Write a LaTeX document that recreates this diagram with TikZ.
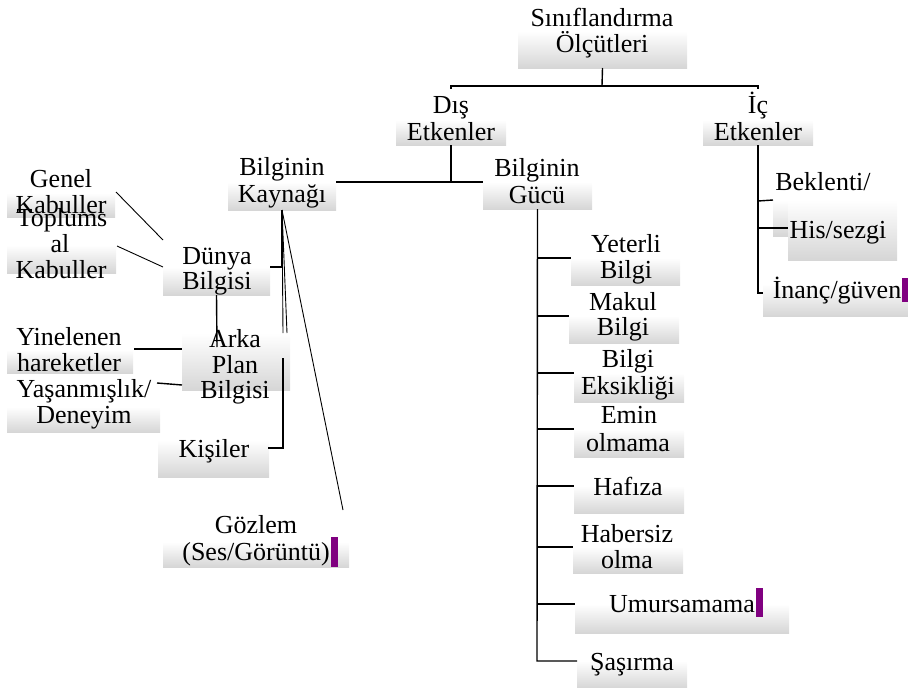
\documentclass[tikz,border=0pt]{standalone}
\usepackage{fontspec}
\setmainfont{Liberation Serif}
\definecolor{boxgray}{RGB}{214,214,214}
\definecolor{barpurple}{RGB}{128,0,128}
\tikzset{
  gbox/.style={draw=none, rectangle, inner sep=0pt, outer sep=0pt, anchor=north west,
    top color=white, bottom color=boxgray},
  txt/.style={anchor=base, inner sep=0pt, outer sep=0pt, font=\fontsize{26}{27}\selectfont},
  conn/.style={line width=1.4pt, black},
  thinconn/.style={line width=0.9pt, black},
  pbar/.style={fill=barpurple, draw=none, rectangle, inner sep=0pt, outer sep=0pt, anchor=north west},
}
\newcommand\gb[5]{\node[gbox, minimum width={(#4)-(#2)}, minimum height={(#5)-(#3)}] (#1) at (#2,#3) {};}
\newcommand\pb[5]{\node[pbar, minimum width={(#4)-(#2)}, minimum height={(#5)-(#3)}] (#1) at (#2,#3) {};}
\newcommand\tx[4]{\node[txt] (#1) at (#2,#3) {#4};}
\begin{document}
\begin{tikzpicture}[x=1pt, y=-1pt]
\useasboundingbox (0,0) rectangle (908,688);
% ---------- boxes ----------
\gb{sin}{518}{31}{687}{68}
\gb{dis}{396}{120}{506}{145}
\gb{ic}{703}{120}{813}{145}
\gb{kay}{228}{182}{336}{210}
\gb{guc}{483}{182}{592}{209}
\gb{gen}{7}{193}{115}{217}
\gb{top}{7}{245}{116}{273}
\gb{dun}{163}{267}{270}{295}
\gb{arka}{182}{333}{290}{390}
\gb{yin}{7}{350}{133}{373}
\gb{yas}{7}{407}{160}{432}
\gb{kis}{158}{440}{269}{477}
\gb{goz}{163}{542}{349}{567}
\gb{yet}{571}{258}{680}{285}
\gb{mak}{569}{316}{679}{343}
\gb{eks}{574}{373}{684}{402}
\gb{emi}{574}{429}{684}{457}
\gb{haf}{574}{486}{684}{513}
\gb{hab}{573}{547}{683}{573}
\gb{umu}{575}{604}{789}{633}
\gb{sas}{577}{661}{687}{688}
\gb{bek}{773}{200}{880}{236}
\gb{his}{788}{200}{897}{260}
\gb{ina}{763}{284}{908}{316}
% ---------- connectors ----------
\coordinate (jtop) at (602,86);
\coordinate (jdis) at (451,86);
\coordinate (jic) at (758,86);
\draw[conn] (sin.south) -- (jtop);
\draw[conn] ([yshift=-3pt]jdis) -- (jdis) -- (jic) -- ([yshift=-3pt]jic);
\draw[conn] (dis.south) -- (451,182);
\draw[conn] (kay.north east) -- (guc.north west);
% Bilginin Gucu branches
\coordinate (gend) at (537,661);
\draw[conn] (guc.south) -- (gend) -- (sas.north west);
\foreach \b in {yet,mak,eks,emi,haf,hab,umu}
  \draw[conn] (537,0 |- \b.north west) -- (\b.north west);
% Ic etkenler branches
\coordinate (iend) at (758,293);
\draw[conn] (ic.south) -- (iend) -- (763,293);
\draw[conn] (758,201) -- (bek.north west);
\draw[conn] (758,228) -- (788,228);
% Bilginin Kaynagi branches
\coordinate (ks) at (282,210);
\draw[thinconn] (ks) -- (283,333);
\draw[thinconn] (ks) -- (287,333);
\draw[thinconn] (ks) -- (343,510);
\draw[conn] (ks) -- (282,267) -- (dun.north east);
\draw[conn] (283,358) -- (283,448) -- (268,448);
\draw[thinconn] (116,192) -- (163,240);
\draw[thinconn] (117,246) -- (dun.north west);
\draw[conn] (dun.south) -- (217,347);
\draw[conn] (134,349) -- (182,349);
\draw[conn] (157,383) -- (182,385);
% ---------- texts ----------
\tx{sin1}{602}{26}{Sınıflandırma}
\tx{sin2}{602}{52}{Ölçütleri}
\tx{dis1}{451}{113}{Dış}
\tx{dis2}{451}{140}{Etkenler}
\tx{ic1}{758}{113}{İç}
\tx{ic2}{758}{140}{Etkenler}
\tx{kay1}{282}{175}{Bilginin}
\tx{kay2}{282}{202}{Kaynağı}
\tx{guc1}{537}{176}{Bilginin}
\tx{guc2}{537}{203}{Gücü}
\tx{gen1}{61}{187}{Genel}
\tx{gen2}{61}{213}{Kabuller}
\tx{top1}{62}{226}{Toplums}
\tx{top2}{60}{252}{al}
\tx{top3}{61}{278}{Kabuller}
\tx{dun1}{217}{264}{Dünya}
\tx{dun2}{217}{289}{Bilgisi}
\tx{arka1}{235}{347}{Arka}
\tx{arka2}{235}{373}{Plan}
\tx{arka3}{235}{398}{Bilgisi}
\tx{yin1}{69}{345}{Yinelenen}
\tx{yin2}{69}{371}{hareketler}
\tx{yas1}{84}{397}{Yaşanmışlık/}
\tx{yas2}{84}{423}{Deneyim}
\tx{kis1}{214}{457}{Kişiler}
\tx{goz1}{256}{533}{Gözlem}
\tx{goz2}{256}{560}{(Ses/Görüntü)}
\tx{yet1}{626}{252}{Yeterli}
\tx{yet2}{626}{278}{Bilgi}
\tx{mak1}{623}{310}{Makul}
\tx{mak2}{623}{335}{Bilgi}
\tx{eks1}{628}{367}{Bilgi}
\tx{eks2}{628}{394}{Eksikliği}
\tx{emi1}{629}{423}{Emin}
\tx{emi2}{628}{451}{olmama}
\tx{haf1}{628}{495}{Hafıza}
\tx{hab1}{627}{542}{Habersiz}
\tx{hab2}{627}{568}{olma}
\tx{umu1}{682}{612}{Umursamama}
\tx{sas1}{632}{670}{Şaşırma}
\tx{bek1}{823}{190}{Beklenti/}
\tx{his1}{838}{238}{His/sezgi}
\tx{ina1}{837}{298}{İnanç/güven}
% ---------- purple markers ----------
\pb{pgoz}{331}{537}{338}{567}
\pb{pumu}{756}{588}{763}{617}
\pb{pina}{902}{278}{908}{302}
\end{tikzpicture}
\end{document}
